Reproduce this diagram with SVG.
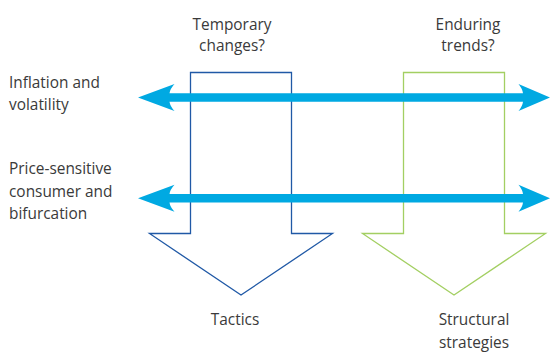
<svg xmlns="http://www.w3.org/2000/svg" width="550" height="353" viewBox="0 0 550 353">
  <style>
    .lbl { font-family: "Open Sans", "Noto Sans", sans-serif; font-size: 15.4px; fill: #3a3a3a; }
    .mid { text-anchor: middle; }
    .bar { fill: #00A9E2; }
  </style>
  <rect width="550" height="353" fill="#ffffff"/>

  <!-- Down arrow: temporary changes leading to tactics -->
  <g id="tactics">
    <path d="M190.5,72.5 H291.5 V233.5 H332.5 L241,295 L149.5,233.5 H190.5 Z" fill="none" stroke="#2059A6" stroke-width="1.3"/>
    <text class="lbl mid" x="232" y="30">Temporary</text>
    <text class="lbl mid" x="232" y="51">changes?</text>
    <text class="lbl mid" x="235" y="325">Tactics</text>
  </g>

  <!-- Down arrow: enduring trends leading to structural strategies -->
  <g id="structural">
    <path d="M403.5,72.5 H504.5 V233.5 H545.5 L454,295 L362.5,233.5 H403.5 Z" fill="none" stroke="#A3CF62" stroke-width="1.3"/>
    <text class="lbl mid" x="468" y="30">Enduring</text>
    <text class="lbl mid" x="468" y="51">trends?</text>
    <text class="lbl mid" x="474" y="325">Structural</text>
    <text class="lbl mid" x="474" y="348">strategies</text>
  </g>

  <!-- Row labels -->
  <g id="inflation">
    <text class="lbl" x="9" y="88">Inflation and</text>
    <text class="lbl" x="9" y="110">volatility</text>
  </g>
  <g id="consumer">
    <text class="lbl" x="9" y="174">Price-sensitive</text>
    <text class="lbl" x="9" y="197">consumer and</text>
    <text class="lbl" x="9" y="219">bifurcation</text>
  </g>

  <!-- Double-headed horizontal arrows -->
  <g id="connectors">
    <path class="bar" d="M138,97.5 L174.5,84 Q170,89 169.5,93.3 H523 Q522.5,89 518.5,84 L550,97.5 L518.5,111 Q522.5,106 523,101.7 H169.5 Q170,106 174.5,111 Z"/>
    <path class="bar" d="M138,198.3 L174.5,184.8 Q170,189.8 169.5,194.1 H523 Q522.5,189.8 518.5,184.8 L550,198.3 L518.5,211.8 Q522.5,206.8 523,202.5 H169.5 Q170,206.8 174.5,211.8 Z"/>
  </g>
</svg>
